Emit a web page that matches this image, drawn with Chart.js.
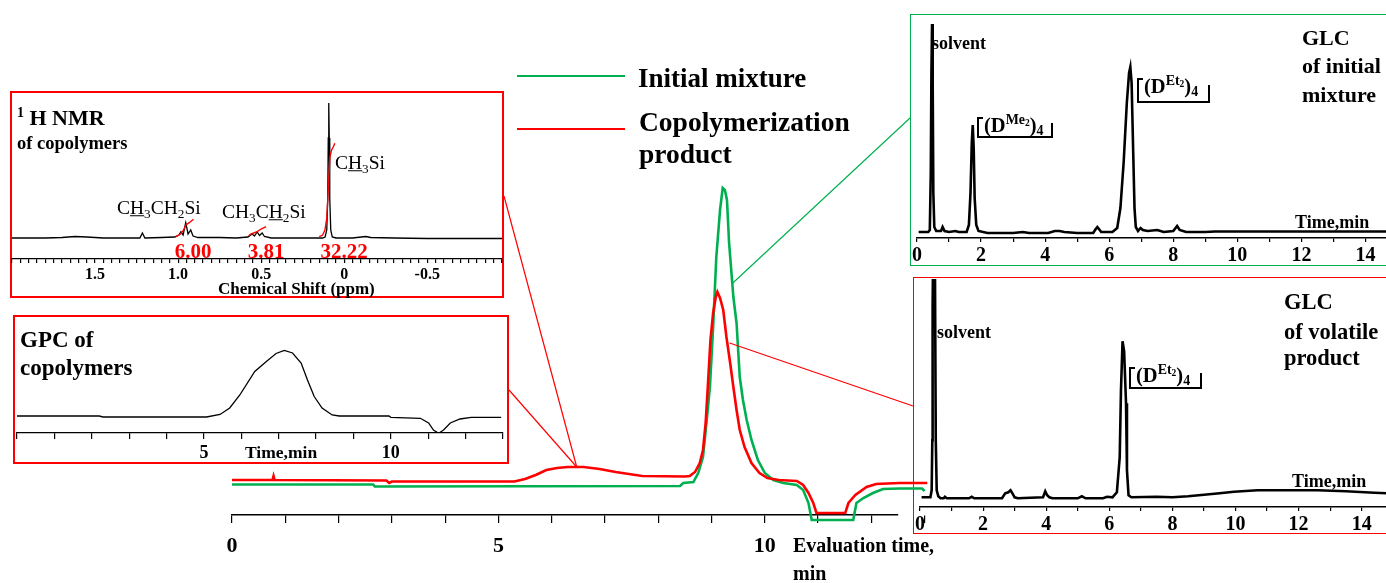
<!DOCTYPE html>
<html>
<head>
<meta charset="utf-8">
<title>Copolymerization monitoring</title>
<script src="https://cdn.jsdelivr.net/npm/chart.js@4.4.1/dist/chart.umd.min.js"></script>
<style>
  html, body { margin: 0; padding: 0; background: #fff; overflow: hidden; }
  #stage { position: relative; width: 1386px; height: 583px; overflow: hidden;
           font-family: "Liberation Serif", "Times New Roman", serif; color: #000; }
  .box { position: absolute; box-sizing: border-box; background: #fff; z-index: 1; }
  canvas { position: absolute; }
  .t { position: absolute; white-space: nowrap; transform: translateY(-50%); z-index: 4; line-height: 1; }
  .c { transform: translate(-50%, -50%); }
  .b { font-weight: bold; }
  .red { color: #ff0000; }
  sub { font-size: 68%; vertical-align: -0.25em; line-height: 0; }
  sup { font-size: 68%; vertical-align: 0.55em; line-height: 0; }
  .brk { position: absolute; box-sizing: border-box; border-left: 2.5px solid #000; border-bottom: 2.5px solid #000; z-index: 4; }
  .brk::before { content: ''; position: absolute; left: 0; top: 0; width: 4px; border-top: 2.5px solid #000; }
  .brk::after { content: ''; position: absolute; right: 0; bottom: 0; height: 70%; border-right: 2.5px solid #000; }
  .key { position: absolute; width: 108px; z-index: 4; }
</style>
</head>
<body>
<div id="stage">
  <!-- inset frames -->
  <div class="box" style="left:10px;top:91px;width:494px;height:207px;border:2px solid #ff0000"></div>
  <div class="box" style="left:13px;top:315px;width:496px;height:149px;border:2px solid #ff0000"></div>
  <div class="box" style="left:910px;top:14px;width:490px;height:252px;border:1.5px solid #00b050"></div>
  <div class="box" style="left:913px;top:277px;width:490px;height:257px;border:1.5px solid #ff0000"></div>

  <canvas id="nmrChart" width="494" height="207" style="left:10px;top:91px;z-index:2"></canvas>
  <canvas id="gpcChart" width="496" height="149" style="left:13px;top:315px;z-index:2"></canvas>
  <canvas id="glcInitialChart" width="490" height="252" style="left:910px;top:14px;z-index:2"></canvas>
  <canvas id="glcVolatileChart" width="490" height="257" style="left:913px;top:277px;z-index:2"></canvas>
  <canvas id="mainChart" width="1386" height="583" style="left:0;top:0;z-index:3"></canvas>

  <!-- legend -->
  <div class="key" style="left:517px;top:75px;border-top:2.5px solid #00b050"></div>
  <div class="t b" style="left:638px;top:78px;font-size:27px">Initial mixture</div>
  <div class="key" style="left:517px;top:128px;border-top:2.5px solid #ff0000"></div>
  <div class="t b" style="left:639px;top:122px;font-size:27.5px">Copolymerization</div>
  <div class="t b" style="left:639px;top:154px;font-size:27.5px">product</div>

  <div class="t b" style="left:793px;top:545px;font-size:20px">Evaluation time,</div>
  <div class="t b" style="left:793px;top:573px;font-size:20px">min</div>

  <!-- NMR inset text -->
  <div class="t b" style="left:17px;top:118px;font-size:22px"><sup style="font-size:14px">1</sup> H NMR</div>
  <div class="t b" style="left:17px;top:143px;font-size:18.5px">of copolymers</div>
  <div class="t" style="left:117px;top:208px;font-size:19.5px">C<u>H</u><sub>3</sub>CH<sub>2</sub>Si</div>
  <div class="t" style="left:222px;top:212px;font-size:19.5px">CH<sub>3</sub>C<u>H</u><sub>2</sub>Si</div>
  <div class="t" style="left:335px;top:163px;font-size:19.5px">C<u>H</u><sub>3</sub>Si</div>
  <div class="t c b red" style="left:193px;top:251px;font-size:21px">6.00</div>
  <div class="t c b red" style="left:266px;top:251px;font-size:21px">3.81</div>
  <div class="t c b red" style="left:344px;top:251px;font-size:21px">32.22</div>
  <div class="t b" style="left:218px;top:288px;font-size:17px">Chemical Shift (ppm)</div>

  <!-- GPC inset text -->
  <div class="t b" style="left:20px;top:339px;font-size:23px">GPC of</div>
  <div class="t b" style="left:20px;top:367px;font-size:23px">copolymers</div>
  <div class="t b" style="left:245px;top:453px;font-size:17.5px">Time,min</div>

  <!-- GLC of initial mixture -->
  <div class="t b" style="left:932px;top:43px;font-size:18px">solvent</div>
  <div class="t b" style="left:1302px;top:38px;font-size:22px">GLC</div>
  <div class="t b" style="left:1302px;top:66px;font-size:22px">of initial</div>
  <div class="t b" style="left:1302px;top:95px;font-size:22px">mixture</div>
  <div class="brk" style="left:977px;top:117px;width:76px;height:21px"></div>
  <div class="t b" style="left:984px;top:125px;font-size:20.5px">(D<sup>Me<sub>2</sub></sup>)<sub>4</sub></div>
  <div class="brk" style="left:1137px;top:78px;width:73px;height:25px"></div>
  <div class="t b" style="left:1144px;top:86px;font-size:20.5px">(D<sup>Et<sub>2</sub></sup>)<sub>4</sub></div>
  <div class="t b" style="left:1295px;top:222px;font-size:18px">Time,min</div>

  <!-- GLC of volatile product -->
  <div class="t b" style="left:937px;top:332px;font-size:18px">solvent</div>
  <div class="t b" style="left:1284px;top:302px;font-size:22.5px">GLC</div>
  <div class="t b" style="left:1284px;top:332px;font-size:22.5px">of volatile</div>
  <div class="t b" style="left:1284px;top:358px;font-size:22.5px">product</div>
  <div class="brk" style="left:1129px;top:367px;width:73px;height:22px"></div>
  <div class="t b" style="left:1136px;top:375px;font-size:20.5px">(D<sup>Et<sub>2</sub></sup>)<sub>4</sub></div>
  <div class="t b" style="left:1292px;top:481px;font-size:18px">Time,min</div>
</div>

<script>
const SERIF = '"Liberation Serif", "Times New Roman", serif';
const GREEN = "#00b050";
const RED = "#ff0000";

// main chromatogram (evaluation time, min / detector signal)
const mainTicks = [0, 5, 10];
const mainAxisEnd = 12.5;
const initialTime = [0, 2.65, 2.68, 8.41, 8.47, 8.66, 8.75, 8.84, 8.91, 8.97, 9.03, 9.09, 9.16, 9.21, 9.25, 9.29,
    9.33, 9.41, 9.47, 9.53, 9.59, 9.66, 9.75, 9.87, 10.0, 10.16, 10.35, 10.6, 10.72, 10.82, 10.88, 11.66, 11.72,
    11.85, 12.03, 12.22, 12.53, 12.95, 13.0];
const initialSignal = [3.05, 3.05, 2.85, 2.9, 3.2, 3.3, 4.2, 5.8, 9.5, 12.8, 18.8, 25.8, 30.5, 32.7, 32.5, 31.5,
    27.2, 21.8, 19.2, 13.8, 11.5, 9.5, 7.5, 5.5, 4.2, 3.5, 3.2, 3.0, 2.5, 1.2, -0.5, -0.5, 1.2,
    1.7, 2.2, 2.6, 2.65, 2.65, 2.4];
const productTime = [0, 0.76, 0.78, 0.8, 2.9, 2.95, 3.0, 5.3, 5.5, 5.7, 5.9, 6.1, 6.3, 6.6, 6.9, 7.2, 7.7, 8.5,
    8.59, 8.69, 8.78, 8.84, 8.89, 8.93, 8.98, 9.03, 9.08, 9.11, 9.16, 9.22, 9.28, 9.35, 9.41, 9.47, 9.53, 9.62,
    9.75, 9.9, 10.05, 10.26, 10.6, 10.72, 10.82, 10.91, 10.97, 11.51, 11.57, 11.7, 11.91, 12.09, 12.53, 13.05];
const productSignal = [3.5, 3.5, 3.9, 3.5, 3.45, 3.2, 3.35, 3.35, 3.6, 4.0, 4.5, 4.7, 4.8, 4.8, 4.6, 4.3, 3.9, 3.85,
    3.9, 4.3, 5.2, 6.5, 9.2, 12.8, 17.5, 20.2, 21.8, 22.3, 21.7, 20.5, 17.8, 15.2, 12.8, 10.5, 8.5, 6.8,
    5.2, 4.2, 3.7, 3.5, 3.4, 3.0, 2.2, 1.2, 0.2, 0.2, 1.2, 2.0, 2.8, 3.1, 3.2, 3.2];

// where the inset pointers touch the traces (time, signal)
const polymerHump = [6.47, 4.8];
const initialFlank = [9.4, 23.2];
const productFlank = [9.34, 17.2];

// 1H NMR of copolymers (ppm / intensity)
const nmrTicks = [1.5, 1.0, 0.5, 0, -0.5];
const nmrTickText = ["1.5", "1.0", "0.5", "0", "-0.5"];
const nmrShift = [2.0, 1.8, 1.7, 1.62, 1.55, 1.45, 1.3, 1.23, 1.215, 1.2, 1.1, 1.02, 0.995, 0.983, 0.97, 0.954,
    0.94, 0.924, 0.91, 0.88, 0.75, 0.65, 0.58, 0.554, 0.54, 0.524, 0.51, 0.494, 0.48, 0.44, 0.3, 0.2, 0.13,
    0.115, 0.105, 0.099, 0.096, 0.093, 0.09, 0.087, 0.081, 0.072, 0.05, -0.05, -0.13, -0.16, -0.3, -0.5, -0.7, -0.95];
const nmrIntensity = [0, 0, 0.5, 1.5, 1, 0, 0, 0, 5, 0, 0.5, 1, 3, 6.3, 3, 15.3,
    4, 8, 2, 0.5, 0.5, 0, 1, 4, 2, 6, 2.5, 5, 1.5, 0, 0, 0, 0,
    1, 8, 40, 100, 135, 100, 40, 8, 1, 0, 0, 1.5, 0.5, 0, -0.5, -0.5, -0.5];
const ethylCh3Shift = [1.013, 0.985, 0.967, 0.953, 0.933, 0.907];
const ethylCh3Integral = [1.3, 4, 8, 13, 15.3, 18.7];
const ethylCh2Shift = [0.575, 0.564, 0.545, 0.524, 0.5, 0.47];
const ethylCh2Integral = [2, 4, 5, 6.3, 9, 11.3];
const methylShift = [0.15, 0.13, 0.116, 0.105, 0.096, 0.086, 0.076, 0.066, 0.056];
const methylIntegral = [1.3, 3, 8, 20, 48, 81, 88, 91, 94.7];

// GPC of copolymers (time, min / signal)
const gpcTicks = [5, 10];
const gpcTime = [0, 2.2, 2.3, 5.07, 5.43, 5.69, 5.96, 6.36, 6.67, 6.93, 7.15, 7.37, 7.6, 7.77, 7.95, 8.16, 8.43,
    8.62, 9.95, 10.0, 10.79, 11.01, 11.14, 11.28, 11.41, 11.59, 11.85, 12.15, 12.95];
const gpcSignal = [0.5, 0.5, -0.5, -0.5, 2, 8.5, 21.5, 45, 55, 63, 66, 63.5, 53.5, 36.5, 20, 8.5, 1.5,
    0.5, 0.5, -0.8, -1.8, -6.5, -13.5, -16.8, -13.5, -6.5, -2.5, -0.8, -0.8];

// GLC traces (time, min / signal)
const glcTicks = [0, 2, 4, 6, 8, 10, 12, 14];
const glcInitialTime = [0.05, 0.35, 0.4, 0.43, 0.45, 0.47, 0.49, 0.51, 0.54, 0.6, 0.75, 0.8, 0.86, 1.0, 1.2, 1.3,
    1.55, 1.62, 1.67, 1.71, 1.74, 1.77, 1.8, 1.85, 1.92, 2.2, 3.0, 3.3, 3.5, 4.1, 4.3, 4.45, 4.6, 5.0, 5.5,
    5.58, 5.63, 5.68, 5.75, 6.1, 6.25, 6.35, 6.45, 6.55, 6.62, 6.66, 6.7, 6.75, 6.79, 6.83, 6.9, 6.98, 7.05,
    7.2, 7.5, 7.7, 8.0, 8.12, 8.2, 8.4, 9.0, 9.3, 12, 15];
const glcInitialSignal = [1, 1, 3, 60, 160, 209, 150, 40, 6, 2, 2, 6, 2, 1, 2, 1,
    1, 8, 40, 90, 108, 85, 35, 8, 2, 0, 0, 1, 0, 0, 2, 2, 1, 0, 0,
    4, 6, 4, 1, 1, 5, 25, 70, 130, 160, 166, 150, 80, 25, 6, 2, 5, 3,
    2, 3, 1, 2, 7, 3, 1, 1, 1.5, 1.5, 1.5];
const glcVolatileTime = [0.05, 0.33, 0.37, 0.39, 0.4, 0.42, 0.47, 0.5, 0.53, 0.58, 0.65, 0.75, 0.79, 0.85, 1.55,
    1.64, 1.72, 2.6, 2.7, 2.8, 2.87, 2.93, 3.0, 3.1, 3.9, 3.97, 4.03, 4.1, 4.2, 5.0, 5.13, 5.25, 5.8, 5.93,
    6.1, 6.24, 6.33, 6.37, 6.42, 6.47, 6.53, 6.56, 6.61, 6.7, 7.5, 8.0, 8.5, 9.0, 9.5, 9.95, 10.7, 12.6, 13.5,
    14.4, 14.8, 15];
const glcVolatileSignal = [1, 1, 8, 58, 192, 260, 260, 58, 8, 2, 0, 0, 1.5, 0, 0,
    1.5, 0, 0, 5, 6, 8, 5, 1, 0, 1, 7, 3, 1, 0, 0, 2, 0, 0, 1.5,
    1, 6, 41, 108, 157, 147, 95, 28, 3, 1, 1.5, 1, 2, 3.5, 5, 6.6, 8, 8, 7,
    5.5, 5, 5];

Chart.defaults.font.family = SERIF;
Chart.defaults.color = "#000";

function points(xs, ys) {
    return xs.map((x, i) => ({ x, y: ys[i] }));
}

function trace(xs, ys, color, width, extra) {
    return Object.assign({
        data: points(xs, ys),
        borderColor: color,
        borderWidth: width,
        pointRadius: 0,
        tension: 0,
        fill: false
    }, extra || {});
}

function labelFor(list, text) {
    return value => {
        const i = list.findIndex(v => Math.abs(v - value) < 1e-6);
        if (i < 0) return "";
        return text ? text[i] : String(list[i]);
    };
}

function makeChart(id, datasets, cfg) {
    const x = {
        type: "linear",
        min: cfg.xMin,
        max: cfg.xMax,
        reverse: !!cfg.reverse,
        border: { display: true, color: "#000", width: cfg.axisWidth || 1.5 },
        grid: { display: true, drawOnChartArea: false, color: "#000", lineWidth: 1.2, tickLength: cfg.tickLength },
        ticks: {
            stepSize: cfg.step,
            autoSkip: false,
            maxRotation: 0,
            color: "#000",
            padding: cfg.tickPad,
            font: { family: SERIF, size: cfg.fontSize, weight: "bold" },
            callback: cfg.label
        },
        afterFit: scale => { scale.height = cfg.axisHeight; }
    };
    // axis end set after the data limits, so traces running past it are still drawn
    if (cfg.axisEnd !== undefined) {
        x.bounds = "data";
        x.afterDataLimits = scale => { scale.max = cfg.axisEnd; };
    }
    return new Chart(document.getElementById(id), {
        type: "line",
        data: { datasets },
        options: {
            responsive: false,
            animation: false,
            devicePixelRatio: 1,
            layout: { padding: cfg.padding },
            plugins: { legend: { display: false }, tooltip: { enabled: false } },
            scales: {
                x,
                y: { display: false, min: cfg.yMin, max: cfg.yMax }
            }
        },
        plugins: cfg.plugins || []
    });
}

function stroke(ctx, color, from, to) {
    ctx.strokeStyle = color;
    ctx.beginPath();
    ctx.moveTo(from[0], from[1]);
    ctx.lineTo(to[0], to[1]);
    ctx.stroke();
}

// thin pointer lines from the insets to the main traces
const pointers = {
    id: "pointers",
    afterDatasetsDraw(chart) {
        const { ctx, scales: { x, y } } = chart;
        const at = p => [x.getPixelForValue(p[0]), y.getPixelForValue(p[1])];
        ctx.save();
        ctx.lineWidth = 1.2;
        stroke(ctx, RED, [504, 196], at(polymerHump));
        stroke(ctx, RED, [509, 390], at(polymerHump));
        stroke(ctx, GREEN, at(initialFlank), [910, 118]);
        stroke(ctx, RED, at(productFlank), [913, 406]);
        ctx.restore();
    }
};

makeChart("mainChart", [
    trace(productTime, productSignal, RED, 2.6, { clip: false }),
    trace(initialTime, initialSignal, GREEN, 2.6, { clip: false })
], {
    padding: { left: 232, right: 488, top: 180, bottom: 23 },
    xMin: 0, axisEnd: mainAxisEnd, step: 1,
    yMin: 0, yMax: 33.5,
    tickLength: 8, tickPad: 10, fontSize: 22, axisHeight: 45,
    label: labelFor(mainTicks),
    plugins: [pointers]
});

makeChart("nmrChart", [
    trace(ethylCh3Shift, ethylCh3Integral, RED, 1.4),
    trace(ethylCh2Shift, ethylCh2Integral, RED, 1.4),
    trace(methylShift, methylIntegral, RED, 1.4),
    trace(nmrShift, nmrIntensity, "#000", 1.3)
], {
    padding: { left: 0, right: 1, top: 9, bottom: 9 },
    xMin: -0.95, xMax: 2.0, step: 0.05, reverse: true,
    yMin: -21, yMax: 138,
    tickLength: 4, tickPad: 2, fontSize: 16, axisHeight: 30, axisWidth: 1.3,
    label: labelFor(nmrTicks, nmrTickText)
});

makeChart("gpcChart", [
    trace(gpcTime, gpcSignal, "#000", 1.3)
], {
    padding: { left: 3, right: 6, top: 15, bottom: 5 },
    xMin: 0, xMax: 13, step: 1,
    yMin: -16.5, yMax: 86.5,
    tickLength: 6, tickPad: 4, fontSize: 18, axisHeight: 26, axisWidth: 1.3,
    label: labelFor(gpcTicks)
});

makeChart("glcInitialChart", [
    trace(glcInitialTime, glcInitialSignal, "#000", 2.6)
], {
    padding: { left: 6, right: 2.5, top: 2, bottom: 5 },
    xMin: 0, xMax: 15, step: 1,
    yMin: -5, yMax: 217,
    tickLength: 4, tickPad: 2, fontSize: 20, axisHeight: 23,
    label: labelFor(glcTicks)
});

makeChart("glcVolatileChart", [
    trace(glcVolatileTime, glcVolatileSignal, "#000", 2.6)
], {
    padding: { left: 7, right: 9.75, top: 2, bottom: 4 },
    xMin: 0, xMax: 15, step: 1,
    yMin: -8.7, yMax: 219.3,
    tickLength: 4, tickPad: 2, fontSize: 20, axisHeight: 23,
    label: labelFor(glcTicks)
});
</script>
</body>
</html>
